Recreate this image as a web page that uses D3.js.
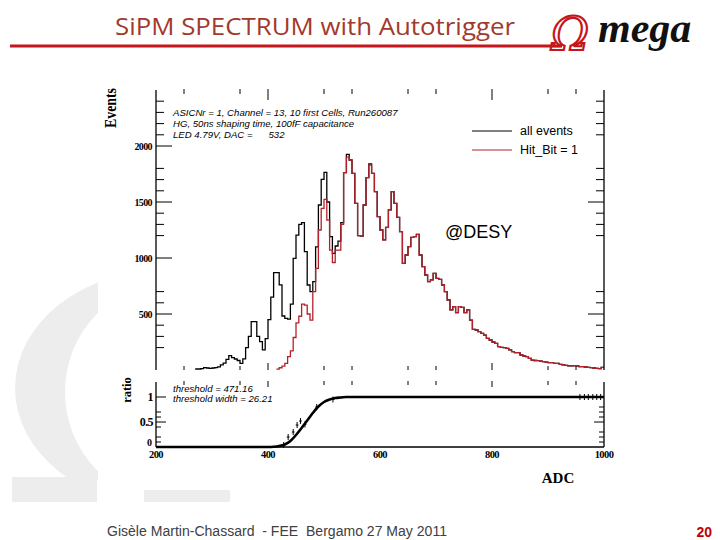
<!DOCTYPE html>
<html><head><meta charset="utf-8">
<script src="https://cdn.jsdelivr.net/npm/d3@7"></script>
<style>body{margin:0;background:#fff}svg{display:block}</style>
</head><body>
<svg id="c" width="720" height="540"></svg>
<script>
// ---------------- data ----------------
const binWidth = 5;               // ADC per bin
const allEventsFrom = 270;        // first non-empty bin (ADC)
const allEvents = [
  9, 9, 12, 21, 18, 15, 18, 21, 28, 45,
  62, 95, 128, 110, 98, 85, 60, 100, 200, 300,
  432, 432, 300, 253, 180, 280, 450, 650, 869, 869,
  760, 482, 461, 455, 589, 997, 1205, 1300, 1315, 1057,
  759, 699, 789, 1100, 1473, 1702, 1765, 1500, 1190, 1042,
  1107, 1150, 1315, 1762, 1926,
  1875, 1756, 1488, 1200, 1195, 1473, 1717, 1840, 1756, 1592,
  1369, 1250, 1161, 1274, 1429, 1592, 1488, 1363, 1235, 952,
  1027, 1101, 1185, 1190, 1211, 1027, 923, 848, 789, 804,
  863, 818, 810, 759, 699, 625, 536, 565, 512, 565,
  560, 512, 536, 446, 363, 357, 342, 327, 312, 283,
  268, 250, 238, 208, 202, 200, 193, 179, 164, 155,
  155, 134, 125, 119, 104, 89, 85, 83, 80, 74,
  70, 65, 65, 60, 60, 50, 45, 42, 36, 38,
  39, 36, 30, 30, 27, 24, 22, 18, 15, 12,
  24
];
const hitBitFrom = 415;
const hitBit = [
  8, 20, 35, 60, 120, 170, 290, 420, 480, 589,
  580, 500, 446, 699, 908, 1250, 1443, 1524, 1339, 1071,
  960, 1071, 1071, 1300, 1762, 1900,
  1875, 1756, 1488, 1200, 1195, 1473, 1717, 1830, 1756, 1592,
  1369, 1250, 1161, 1274, 1429, 1592, 1488, 1363, 1235, 952,
  1027, 1101, 1185, 1190, 1211, 1027, 923, 848, 789, 804,
  863, 818, 810, 759, 699, 625, 536, 565, 512, 565,
  560, 512, 536, 446, 363, 357, 342, 327, 312, 283,
  268, 250, 238, 208, 202, 200, 193, 179, 164, 155,
  155, 134, 125, 119, 104, 89, 85, 83, 80, 74,
  70, 65, 65, 60, 60, 50, 45, 42, 36, 38,
  39, 36, 30, 30, 27, 24, 22, 18, 15, 12,
  24
];
// threshold fit curve
const fitAdc   = [200, 400, 410, 420, 430, 440, 450, 460, 470, 480, 490, 500, 510, 520, 530, 540, 1000];
const fitRatio = [0, 0, 0.005, 0.02, 0.05, 0.12, 0.24, 0.38, 0.53, 0.68, 0.81, 0.9, 0.95, 0.98, 0.99, 1.0, 1.0];
// individual ratio points visible off the curve
const ratioAdc = [428, 436, 445, 452, 458, 466, 487, 516, 957, 965, 972, 980, 987, 994];
const ratioVal = [0.04, 0.2, 0.3, 0.44, 0.52, 0.45, 0.8, 0.95, 1, 1, 1, 1, 1, 1];
// axis ticks and labels
const xLabels = [200, 400, 600, 800, 1000];
const xTicksMinor = [250, 350, 500, 550, 650, 700, 900, 950];
const xTicksMajor = [400, 800];
const yLabels = [500, 1000, 1500, 2000];
const yMinorLeft = [200, 300, 400, 600, 700, 1200, 1300, 1400, 1600, 1700, 1800, 2100, 2200, 2300, 2400];
const yMajorRight = [500, 1500];
const rLabels = [0, 0.5, 1];
const rMinorLeft = [0.1, 0.2, 0.4, 0.6, 0.7];
const rMinorRight = [0.1, 0.2, 0.3, 0.6, 0.7, 0.8];
const infoLines = ["ASICNr = 1, Channel = 13, 10 first Cells, Run260087",
                   "HG, 50ns shaping time, 100fF capacitance",
                   "LED 4.79V, DAC =      532"];
const fitLines = ["threshold = 471.16", "threshold width = 26.21"];
const legendLabels = ["all events", "Hit_Bit = 1"];
const legendColors = ["#000000", "#b3202a"];

// ---------------- drawing ----------------
const svg = d3.select("#c");
svg.append("rect").attr("width", 720).attr("height", 540).attr("fill", "#fff");

// background omega watermark
const defs = svg.append("defs");
defs.append("clipPath").attr("id", "omclip").append("rect")
  .attr("x", 0).attr("y", 0).attr("width", 98).attr("height", 480);
const ell = (cx, cy, rx, ry) => `M${cx - rx},${cy}a${rx},${ry} 0 1,0 ${2*rx},0a${rx},${ry} 0 1,0 ${-2*rx},0Z`;
svg.append("path").attr("d", ell(165, 388, 150, 118) + ell(168, 392, 103, 108))
  .attr("fill", "#ededed").attr("fill-rule", "evenodd").attr("clip-path", "url(#omclip)");
svg.append("rect").attr("x", 12).attr("y", 477).attr("width", 85).attr("height", 25).attr("fill", "#ededed");
svg.append("rect").attr("x", 144).attr("y", 490).attr("width", 86).attr("height", 12).attr("fill", "#ededed");
svg.append("rect").attr("x", 100).attr("y", 80).attr("width", 515).attr("height", 410).attr("fill", "#fff");

// header
svg.append("text").attr("x", 115).attr("y", 35).text("SiPM SPECTRUM with Autotrigger")
  .attr("font-family", "'Open Sans', 'Liberation Sans', sans-serif").attr("font-size", 23)
  .attr("fill", "#a23a2c").attr("textLength", 400).attr("lengthAdjust", "spacingAndGlyphs");
svg.append("line").attr("x1", 10).attr("x2", 562).attr("y1", 46).attr("y2", 46)
  .attr("stroke", "#c4161c").attr("stroke-width", 3);
svg.append("text").attr("x", 551).attr("y", 50).text("Ω")
  .attr("font-family", "'DejaVu Serif', serif").attr("font-style", "italic").attr("font-size", 46)
  .attr("fill", "none").attr("stroke", "#c4161c").attr("stroke-width", 2.2);
svg.append("text").attr("x", 598).attr("y", 42).text("mega")
  .attr("font-family", "'Liberation Serif', serif").attr("font-style", "italic").attr("font-weight", "bold")
  .attr("font-size", 42).attr("fill", "#111");

// footer
svg.append("text").attr("x", 107).attr("y", 536).text("Gisèle Martin-Chassard  - FEE  Bergamo 27 May 2011")
  .style("white-space", "pre").attr("textLength", 340).attr("lengthAdjust", "spacingAndGlyphs")
  .attr("font-family", "'Liberation Sans', Arial, sans-serif").attr("font-size", 13.8).attr("fill", "#404040");
svg.append("text").attr("x", 712).attr("y", 537).attr("text-anchor", "end").text("20")
  .attr("font-family", "'Liberation Sans', Arial, sans-serif").attr("font-size", 14).attr("font-weight", "bold")
  .attr("fill", "#c00000");

// scales
const x = d3.scaleLinear().domain([200, 1000]).range([156, 604]);
const y = d3.scaleLinear().domain([0, 2500]).range([370, 90]);
const yR = d3.scaleLinear().domain([0, 1.3]).range([447, 382]);

const serif = "'Liberation Serif', 'DejaVu Serif', serif";
const sans = "'Liberation Sans', Arial, sans-serif";

// clip for histograms
defs.append("clipPath").attr("id", "top").append("rect")
  .attr("x", x(200)).attr("y", y(2500)).attr("width", x(1000) - x(200)).attr("height", y(0) - y(2500) + 1);

// histograms
function histPoints(from, vals) {
  const pts = vals.map((v, i) => [from + i * binWidth, v]);
  pts.push([from + vals.length * binWidth, vals[vals.length - 1]]);
  return pts;
}
const hline = d3.line().x(d => x(d[0])).y(d => y(d[1])).curve(d3.curveStepAfter);
const gH = svg.append("g").attr("clip-path", "url(#top)");
gH.append("path").attr("d", hline(histPoints(allEventsFrom, allEvents)))
  .attr("fill", "none").attr("stroke", legendColors[0]).attr("stroke-width", 1.3);
gH.append("path").attr("d", hline(histPoints(hitBitFrom, hitBit)))
  .attr("fill", "none").attr("stroke", legendColors[1]).attr("stroke-width", 1.3);

// top panel axes
const ax = svg.append("g").attr("stroke", "#000").attr("stroke-width", 1);
ax.append("line").attr("x1", x(200)).attr("x2", x(200)).attr("y1", y(2500)).attr("y2", y(0)).attr("stroke-width", 1.3);
ax.append("line").attr("x1", x(1000)).attr("x2", x(1000)).attr("y1", y(2500)).attr("y2", y(0)).attr("stroke-width", 1.3);
yLabels.forEach(v => {
  ax.append("line").attr("x1", x(200)).attr("x2", x(200) + 16).attr("y1", y(v)).attr("y2", y(v));
});
yMinorLeft.forEach(v => {
  ax.append("line").attr("x1", x(200)).attr("x2", x(200) + 8).attr("y1", y(v)).attr("y2", y(v));
  ax.append("line").attr("x1", x(1000)).attr("x2", x(1000) - 8).attr("y1", y(v)).attr("y2", y(v));
});
yMajorRight.forEach(v => {
  ax.append("line").attr("x1", x(1000)).attr("x2", x(1000) - 16).attr("y1", y(v)).attr("y2", y(v));
});
xTicksMinor.forEach(v => {
  ax.append("line").attr("x1", x(v)).attr("x2", x(v)).attr("y1", y(2500) - 1).attr("y2", y(2500) + 4);
  ax.append("line").attr("x1", x(v)).attr("x2", x(v)).attr("y1", y(0)).attr("y2", y(0) - 4);
  ax.append("line").attr("x1", x(v)).attr("x2", x(v)).attr("y1", yR(1.3) - 1).attr("y2", yR(1.3) + 3);
});
xTicksMajor.forEach(v => {
  ax.append("line").attr("x1", x(v)).attr("x2", x(v)).attr("y1", y(2500) - 1).attr("y2", y(2500) + 10);
  ax.append("line").attr("x1", x(v)).attr("x2", x(v)).attr("y1", y(0)).attr("y2", y(0) - 7);
  ax.append("line").attr("x1", x(v)).attr("x2", x(v)).attr("y1", yR(1.3) - 1).attr("y2", yR(1.3) + 5);
});
svg.append("g").selectAll("text").data(yLabels).join("text")
  .attr("x", x(200) - 4).attr("y", d => y(d)).attr("dy", "0.35em").attr("text-anchor", "end")
  .attr("font-family", serif).attr("font-weight", "bold").attr("font-size", 10).attr("letter-spacing", -0.6)
  .text(d => d);
svg.append("text").attr("transform", "translate(116,108) rotate(-90)").attr("text-anchor", "middle")
  .attr("font-family", serif).attr("font-weight", "bold").attr("font-size", 16)
  .attr("textLength", 40).attr("lengthAdjust", "spacingAndGlyphs").text("Events");

// info text
svg.append("g").selectAll("text").data(infoLines).join("text")
  .attr("x", 173).attr("y", (d, i) => 113 + i * 11).attr("dy", "0.35em")
  .style("white-space", "pre")
  .attr("font-family", sans).attr("font-style", "italic").attr("font-size", 9.6)
  .text(d => d);

// legend
legendLabels.forEach((t, i) => {
  const ly = 131 + i * 19;
  svg.append("line").attr("x1", 472).attr("x2", 512).attr("y1", ly).attr("y2", ly)
    .attr("stroke", legendColors[i]).attr("stroke-width", 1.2);
  svg.append("text").attr("x", 520).attr("y", ly).attr("dy", "0.35em")
    .attr("font-family", sans).attr("font-size", 12.5).text(t);
});
svg.append("text").attr("x", 445).attr("y", 232).attr("dy", "0.35em")
  .attr("font-family", sans).attr("font-size", 18).text("@DESY");

// ratio panel
const rax = svg.append("g").attr("stroke", "#000").attr("stroke-width", 1);
rax.append("line").attr("x1", x(200)).attr("x2", x(200)).attr("y1", yR(1.3)).attr("y2", yR(0)).attr("stroke-width", 1.3);
rax.append("line").attr("x1", x(1000)).attr("x2", x(1000)).attr("y1", yR(1.3)).attr("y2", yR(0)).attr("stroke-width", 1.3);
rax.append("line").attr("x1", x(200)).attr("x2", x(1000)).attr("y1", yR(0)).attr("y2", yR(0)).attr("stroke-width", 1.5);
[0.5, 1].forEach(v => {
  rax.append("line").attr("x1", x(200)).attr("x2", x(200) + 10).attr("y1", yR(v)).attr("y2", yR(v));
  rax.append("line").attr("x1", x(1000)).attr("x2", x(1000) - 10).attr("y1", yR(v)).attr("y2", yR(v));
});
rMinorLeft.forEach(v => rax.append("line").attr("x1", x(200)).attr("x2", x(200) + 5).attr("y1", yR(v)).attr("y2", yR(v)));
rMinorRight.forEach(v => rax.append("line").attr("x1", x(1000)).attr("x2", x(1000) - 5).attr("y1", yR(v)).attr("y2", yR(v)));

const fitLine = d3.line().x(d => x(d[0])).y(d => yR(d[1])).curve(d3.curveMonotoneX);
svg.append("path").attr("d", fitLine(fitAdc.map((a, i) => [a, fitRatio[i]])))
  .attr("fill", "none").attr("stroke", "#000").attr("stroke-width", 2.6);
const gp = svg.append("g").attr("stroke", "#000").attr("stroke-width", 1);
ratioAdc.forEach((a, i) => {
  gp.append("line").attr("x1", x(a) - 1.4).attr("x2", x(a) + 1.4).attr("y1", yR(ratioVal[i])).attr("y2", yR(ratioVal[i]));
  gp.append("line").attr("x1", x(a)).attr("x2", x(a)).attr("y1", yR(ratioVal[i]) - 3).attr("y2", yR(ratioVal[i]) + 3);
});

svg.append("g").selectAll("text").data(rLabels.filter(d => d > 0)).join("text")
  .attr("x", x(200) - 3).attr("y", d => yR(d)).attr("dy", "0.35em").attr("text-anchor", "end")
  .attr("font-family", serif).attr("font-weight", "bold").attr("font-size", 12).attr("letter-spacing", -0.6)
  .text(d => d);
svg.append("g").selectAll("text").data(xLabels).join("text")
  .attr("x", d => x(d)).attr("y", yR(0) + 7).attr("dy", "0.35em").attr("text-anchor", "middle")
  .attr("font-family", serif).attr("font-weight", "bold").attr("font-size", 10.5).attr("letter-spacing", -0.6)
  .text(d => d);
svg.append("text").attr("x", x(200) - 4).attr("y", yR(0) - 5).attr("dy", "0.35em").attr("text-anchor", "end")
  .attr("font-family", serif).attr("font-weight", "bold").attr("font-size", 10)
  .text(rLabels[0]);
svg.append("text").attr("transform", "translate(131,390) rotate(-90)").attr("text-anchor", "middle")
  .attr("font-family", serif).attr("font-weight", "bold").attr("font-size", 12.5).text("ratio");
svg.append("text").attr("x", 558).attr("y", 483).attr("text-anchor", "middle")
  .attr("font-family", serif).attr("font-weight", "bold").attr("font-size", 15).text("ADC");
svg.append("g").selectAll("text").data(fitLines).join("text")
  .attr("x", 173).attr("y", (d, i) => 389 + i * 10).attr("dy", "0.35em")
  .attr("font-family", sans).attr("font-style", "italic").attr("font-size", 9.6)
  .text(d => d);
</script>
</body></html>
